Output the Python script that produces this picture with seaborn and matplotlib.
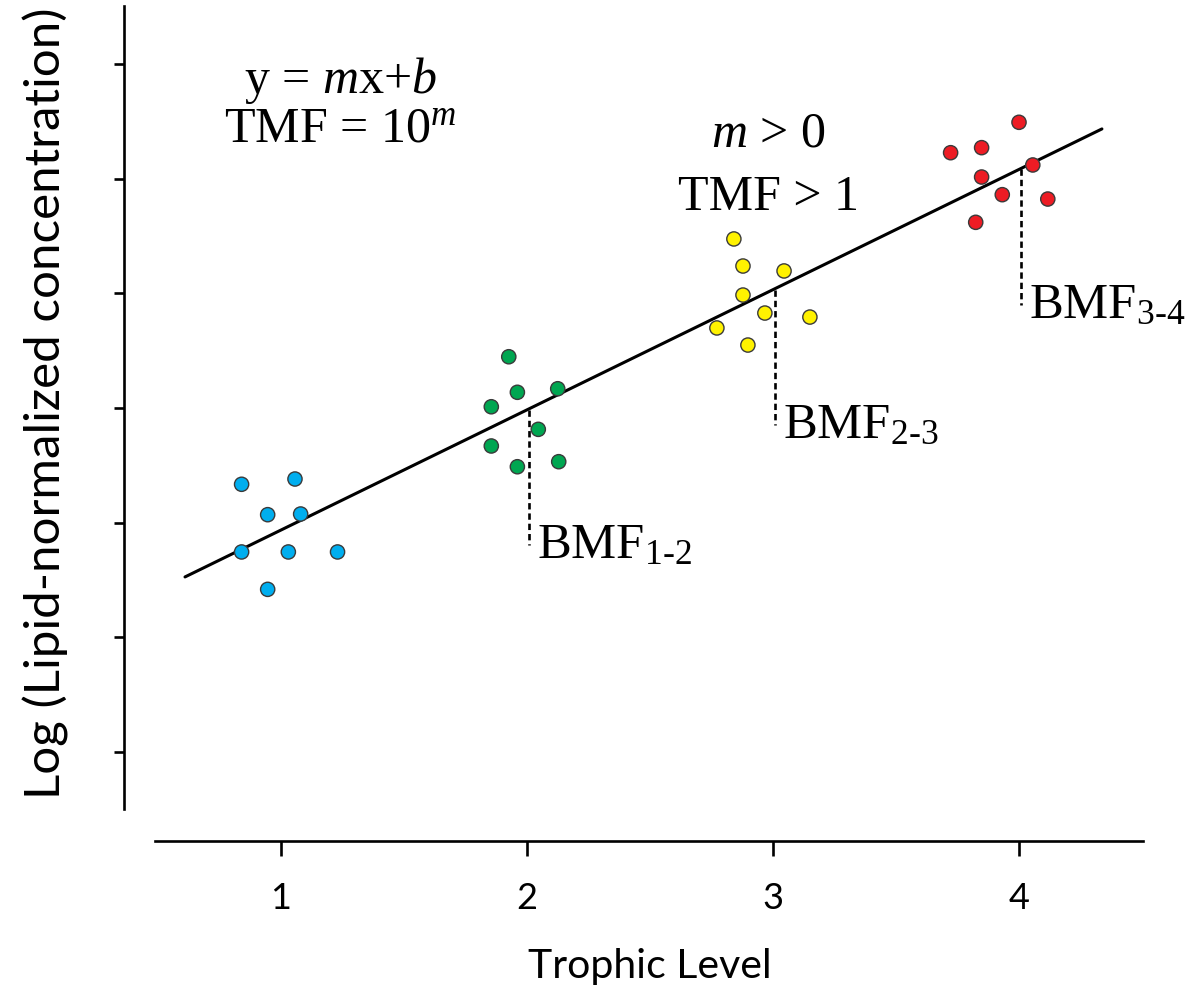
import numpy as np
import pandas as pd
import matplotlib
matplotlib.use("Agg")
import matplotlib.pyplot as plt
import seaborn as sns

# Trophic level of each sample and its log lipid-normalized concentration
level_1_x = [0.840, 1.057, 0.946, 1.080, 0.840, 1.030, 1.230, 0.946]
level_1_y = [3.334, 3.380, 3.069, 3.075, 2.744, 2.744, 2.744, 2.418]
level_2_x = [1.926, 1.961, 2.125, 1.855, 2.046, 1.855, 1.961, 2.129]
level_2_y = [4.446, 4.136, 4.167, 4.010, 3.813, 3.668, 3.487, 3.531]
level_3_x = [2.841, 2.878, 3.045, 2.878, 2.967, 2.772, 3.150, 2.898]
level_3_y = [5.473, 5.237, 5.194, 4.984, 4.827, 4.697, 4.792, 4.548]
level_4_x = [4.000, 3.722, 3.848, 4.056, 3.848, 3.932, 4.117, 3.824]
level_4_y = [6.490, 6.225, 6.269, 6.118, 6.013, 5.859, 5.821, 5.618]

# Regression line y = m x + b
slope_m = 1.048
intercept_b = 1.887
line_x = [0.610, 4.337]

x_ticks = [1, 2, 3, 4]
y_ticks = [1, 2, 3, 4, 5, 6, 7]
bmf_labels = ["1-2", "2-3", "3-4"]
bmf_levels = [2, 3, 4]

level_colors = {"1": "#00AEEF", "2": "#00A651", "3": "#FFF200", "4": "#ED1C24"}

sns.set_theme(style="ticks")
plt.rcParams["font.family"] = ["Lato", "DejaVu Sans"]
plt.rcParams["text.color"] = "black"
plt.rcParams["axes.labelcolor"] = "black"
plt.rcParams["xtick.color"] = "black"
plt.rcParams["ytick.color"] = "black"
plt.rcParams["mathtext.fontset"] = "custom"
plt.rcParams["mathtext.rm"] = "Liberation Serif"
plt.rcParams["mathtext.it"] = "Liberation Serif:italic"

df = pd.DataFrame({
    "trophic": level_1_x + level_2_x + level_3_x + level_4_x,
    "conc": level_1_y + level_2_y + level_3_y + level_4_y,
    "level": ["1"] * len(level_1_x) + ["2"] * len(level_2_x)
             + ["3"] * len(level_3_x) + ["4"] * len(level_4_x),
})
line_df = pd.DataFrame({"x": line_x,
                        "y": [slope_m * v + intercept_b for v in line_x]})

fig = plt.figure(figsize=(11.91, 9.96), dpi=100)
ax = fig.add_axes([124 / 1191, 1 - 841 / 996, 1019 / 1191, 835 / 996])

sns.lineplot(data=line_df, x="x", y="y", color="black", linewidth=2.2, ax=ax)
sns.scatterplot(data=df, x="trophic", y="conc", hue="level", palette=level_colors,
                s=105, edgecolor="#3a3a3a", linewidth=1.0, legend=False, ax=ax,
                zorder=3)

# Dashed drop lines and biomagnification factor labels
serif = "Liberation Serif"
for lvl, lab in zip(bmf_levels, bmf_labels):
    y_on_line = slope_m * lvl + intercept_b
    ax.plot([lvl + 0.008, lvl + 0.008], [y_on_line, y_on_line - 1.18], color="black",
            linewidth=1.9, linestyle=(0, (2.4, 1.5)), zorder=2)
    ax.text(lvl + 0.04, y_on_line - 1.292, "BMF$_{\\text{%s}}$" % lab,
            fontsize=36.5, family=serif, ha="left", va="baseline", color="black")

ax.text(1.24, 6.745, "y = $m$x+$b$", fontsize=36, family=serif,
        ha="center", va="baseline", color="black")
ax.text(1.24, 6.318, "TMF = 10$^{m}$", fontsize=36, family=serif,
        ha="center", va="baseline", color="black")
ax.text(2.98, 6.275, "$m$ > 0", fontsize=36, family=serif,
        ha="center", va="baseline", color="black")
ax.text(2.98, 5.725, "TMF > 1", fontsize=36, family=serif,
        ha="center", va="baseline", color="black")

ax.set_xlim(0.362, 4.504)
ax.set_ylim(0.224, 7.504)
ax.set_xticks(x_ticks)
ax.set_xticklabels([str(t) for t in x_ticks])
ax.set_yticks(y_ticks)
ax.set_yticklabels([])

for side in ("top", "right"):
    ax.spines[side].set_visible(False)
ax.spines["left"].set_bounds(0.503, 7.504)
ax.spines["bottom"].set_bounds(0.488, 4.504)
for side in ("left", "bottom"):
    ax.spines[side].set_linewidth(1.9)
    ax.spines[side].set_color("black")

ax.tick_params(axis="x", direction="out", length=10.8, width=1.9, color="black",
               labelsize=26, pad=19, labelcolor="black")
ax.tick_params(axis="y", direction="out", length=7.2, width=1.9, color="black")

ax.set_xlabel("Trophic Level", fontsize=29.5, color="black")
ax.set_ylabel("Log (Lipid-normalized concentration)", fontsize=35.5, color="black")
ax.xaxis.set_label_coords(0.516, -0.128)
ax.yaxis.set_label_coords(-0.054, 0.5246)

fig.savefig("out.png", dpi=100)
